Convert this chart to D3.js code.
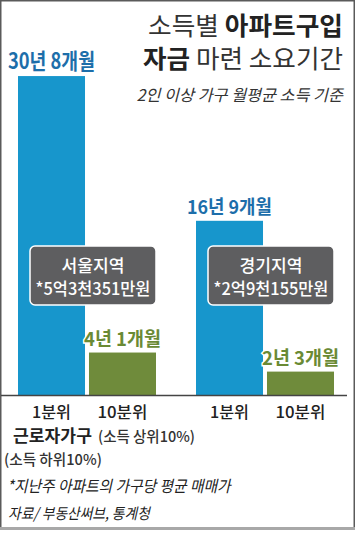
<!DOCTYPE html>
<html>
<head>
<meta charset="utf-8">
<script src="https://cdn.jsdelivr.net/npm/d3@7"></script>
<style>
  body { margin: 0; background: #fff; }
  text { font-family: "Noto Sans CJK KR", "Noto Sans", sans-serif; }
</style>
</head>
<body>
<script>
// data (years to save up for an apartment)
var regions = ["서울지역", "경기지역"];
var prices = ["*5억3천351만원", "*2억9천155만원"];
var quintiles = ["1분위", "10분위"];
var seoulYears = [30 + 8 / 12, 4 + 1 / 12];
var gyeonggiYears = [16 + 9 / 12, 2 + 3 / 12];
var barColors = ["#1796cc", "#6f8b3b"];
var labelColors = ["#1d6eaa", "#6a8a34"];

var W = 356, H = 533;
var svg = d3.select("body").append("svg")
    .attr("width", W)
    .attr("height", H);

// squeeze a text horizontally to a target width (the original font is condensed)
function fit(sel, target, ax) {
  var w = sel.node().getBBox().width;
  var sx = target / w;
  sel.attr("transform", "translate(" + ax + ",0) scale(" + sx + ",1) translate(" + (-ax) + ",0)");
  return sel;
}

function fmt(v) {
  var y = Math.floor(v + 1e-6);
  var m = Math.round((v - y) * 12);
  return y + "년 " + m + "개월";
}

var rows = [];
regions.forEach(function(r, gi) {
  var vals = gi == 0 ? seoulYears : gyeonggiYears;
  quintiles.forEach(function(q, qi) {
    rows.push({region: r, q: q, qi: qi, value: vals[qi]});
  });
});

// scales
var x0 = d3.scaleBand().domain(regions).range([18, 334]).paddingInner(0.2247).paddingOuter(0);
var x1 = d3.scaleBand().domain(quintiles).range([0, x0.bandwidth()]).paddingInner(0.056).paddingOuter(0);
var y = d3.scaleLinear().domain([0, 30]).range([395, 395 - 30 * 10.4]);

// frame
svg.append("rect")
    .attr("x", 0.75).attr("y", 0.75)
    .attr("width", W - 2.5).attr("height", H - 6)
    .attr("fill", "none").attr("stroke", "#5a5a5a").attr("stroke-width", 1.5);
svg.append("rect")
    .attr("x", 0).attr("y", H - 6)
    .attr("width", W - 1).attr("height", 3)
    .attr("fill", "#a8a8a8");

// title
var t1 = svg.append("text").attr("x", 343).attr("y", 35)
    .attr("text-anchor", "end").attr("font-size", 25).attr("fill", "#222");
t1.append("tspan").attr("font-weight", 400).attr("fill", "#333").text("소득별 ");
t1.append("tspan").attr("font-weight", 700).text("아파트구입");
fit(t1, 195, 343);

var t2 = svg.append("text").attr("x", 343).attr("y", 68)
    .attr("text-anchor", "end").attr("font-size", 25).attr("fill", "#222");
t2.append("tspan").attr("font-weight", 700).text("자금 ");
t2.append("tspan").attr("font-weight", 400).attr("fill", "#333").text("마련 소요기간");
fit(t2, 200, 343);

var st = svg.append("text").attr("x", 343).attr("y", 101)
    .attr("text-anchor", "end").attr("font-size", 16).attr("font-style", "italic")
    .attr("fill", "#333").text("2인 이상 가구 월평균 소득 기준");
fit(st, 208, 343);

// bars
svg.selectAll("rect.bar")
    .data(rows)
    .enter().append("rect")
    .attr("class", "bar")
    .attr("x", function(d) { return x0(d.region) + x1(d.q); })
    .attr("width", x1.bandwidth())
    .attr("y", function(d) { return y(d.value); })
    .attr("height", function(d) { return y(0) - y(d.value); })
    .attr("fill", function(d) { return barColors[d.qi]; });

// baseline
svg.append("line")
    .attr("x1", 1).attr("x2", 347)
    .attr("y1", y(0) + 0.5).attr("y2", y(0) + 0.5)
    .attr("stroke", "#444").attr("stroke-width", 1.5);

// value labels
svg.selectAll("text.val")
    .data(rows)
    .enter().append("text")
    .attr("class", "val")
    .attr("x", function(d) { return x0(d.region) + x1(d.q) + x1.bandwidth() / 2; })
    .attr("y", function(d) { return y(d.value) - 7; })
    .attr("text-anchor", "middle")
    .attr("font-size", function(d) { return d.value > 25 ? 22 : 19; })
    .attr("font-weight", 700)
    .attr("fill", function(d) { return labelColors[d.qi]; })
    .attr("stroke", "#fff").attr("stroke-width", 3).attr("paint-order", "stroke")
    .text(function(d) { return fmt(d.value); })
    .each(function(d) {
      var s = d3.select(this);
      fit(s, d.value > 25 ? 87 : (d.value > 10 ? 85 : 77), +s.attr("x"));
    });

// region boxes
var box = svg.selectAll("g.box")
    .data(regions)
    .enter().append("g")
    .attr("class", "box")
    .attr("transform", function(d) { return "translate(" + (x0(d) + 12) + ",246)"; });
box.append("rect")
    .attr("width", 126).attr("height", 59)
    .attr("rx", 5)
    .attr("fill", "#5e5e60")
    .attr("stroke", "#fff").attr("stroke-width", 1.5);
box.append("text")
    .attr("x", 63).attr("y", 26)
    .attr("text-anchor", "middle").attr("font-size", 17).attr("font-weight", 500).attr("fill", "#fff")
    .text(function(d) { return d; })
    .each(function() { fit(d3.select(this), 63, 63); });
box.append("text")
    .attr("x", 63).attr("y", 49)
    .attr("text-anchor", "middle").attr("font-size", 17).attr("font-weight", 500).attr("fill", "#fff")
    .text(function(d, i) { return prices[i]; })
    .each(function() { fit(d3.select(this), 115, 63); });

// category labels under bars
svg.selectAll("text.cat")
    .data(rows)
    .enter().append("text")
    .attr("class", "cat")
    .attr("x", function(d) { return x0(d.region) + x1(d.q) + x1.bandwidth() / 2; })
    .attr("y", 418)
    .attr("text-anchor", "middle").attr("font-size", 16).attr("font-weight", 500).attr("fill", "#222")
    .text(function(d) { return d.q; })
    .each(function(d) {
      var s = d3.select(this);
      fit(s, d.qi == 0 ? 39 : 50, +s.attr("x"));
    });

var g1 = svg.append("text").attr("x", 13).attr("y", 442.5)
    .attr("font-size", 17).attr("font-weight", 700).attr("fill", "#222").text("근로자가구");
fit(g1, 79, 13);
var g2 = svg.append("text").attr("x", 98).attr("y", 442.5)
    .attr("font-size", 15).attr("font-weight", 500).attr("fill", "#333").text("(소득 상위10%)");
fit(g2, 97, 98);
var g3 = svg.append("text").attr("x", 4).attr("y", 465)
    .attr("font-size", 15).attr("font-weight", 500).attr("fill", "#333").text("(소득 하위10%)");
fit(g3, 98, 4);

// notes
var n1 = svg.append("text").attr("x", 7).attr("y", 492)
    .attr("font-size", 16).attr("font-style", "italic").attr("fill", "#222")
    .text("*지난주 아파트의 가구당 평균 매매가");
fit(n1, 226, 7);
var n2 = svg.append("text").attr("x", 8).attr("y", 519)
    .attr("font-size", 15).attr("font-style", "italic").attr("fill", "#222")
    .text("자료/ 부동산써브, 통계청");
fit(n2, 144, 8);
</script>
</body>
</html>
